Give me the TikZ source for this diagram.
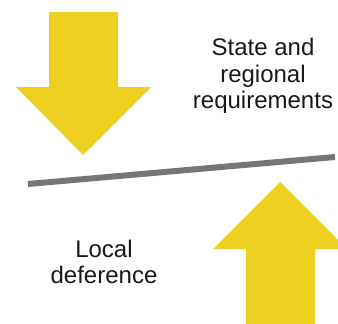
\documentclass[tikz,border=0pt]{standalone}
\usepackage{fontspec}
\setmainfont{Liberation Sans}
\usepackage{xcolor}
\usetikzlibrary{positioning,calc}
\definecolor{arrowyellow}{RGB}{237,207,32}
\definecolor{beamgray}{RGB}{118,118,118}
\begin{document}
\begin{tikzpicture}[
    x=1pt, y=-1pt,
    bigarrow/.style={fill=arrowyellow, draw=none},
    beam/.style={draw=beamgray, line width=6pt},
    lbl/.style={font=\fontsize{24}{26.5}\selectfont, align=center, text=black!90, inner sep=0pt}
]
\useasboundingbox (0,0) rectangle (338,324);
\clip (0,0) rectangle (338,324);
% ----- pressure from above -----
\fill[bigarrow] (49,12) -- (118,12) -- (118,87) -- (151,87) -- (83,155) -- (16,87) -- (49,87) -- cycle;
% ----- pressure from below -----
\fill[bigarrow] (246,324) -- (246,249) -- (213,249) -- (280,182) -- (347,249) -- (315,249) -- (315,324) -- cycle;
% ----- balance beam -----
\coordinate (bl) at (28,184);
\coordinate (br) at (335,157);
\draw[beam] (bl) -- (br);
% ----- labels -----
\node[lbl] (state) at (263,76) {State and\\regional\\requirements};
\node[lbl] (local) at (104,262) {Local\\deference};
\end{tikzpicture}
\end{document}
